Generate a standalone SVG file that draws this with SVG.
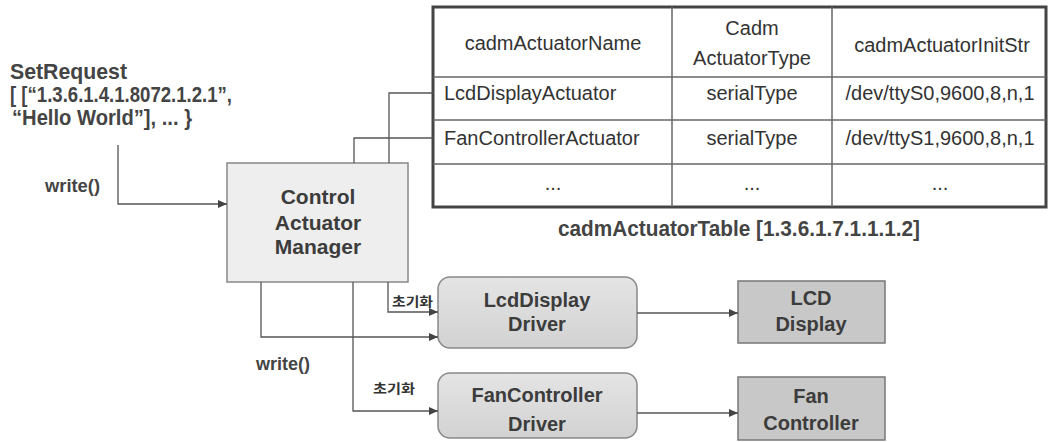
<svg xmlns="http://www.w3.org/2000/svg" width="1049" height="442" viewBox="0 0 1049 442">
<defs>
<marker id="arr" markerUnits="userSpaceOnUse" markerWidth="10" markerHeight="8" refX="9" refY="4" orient="auto">
<path d="M0,0 L9,4 L0,8 z" fill="#444"/>
</marker>
<linearGradient id="gDrv" x1="0" y1="0" x2="0" y2="1">
<stop offset="0" stop-color="#e4e4e4"/>
<stop offset="1" stop-color="#d2d2d2"/>
</linearGradient>
</defs>
<style>
.cond{font-family:"Liberation Sans",Arial,sans-serif;fill:#444;font-weight:bold}
.lbl{font-family:"Liberation Sans",Arial,sans-serif;font-weight:bold;fill:#3c3c3c;text-anchor:middle}
.tbl{font-family:"Liberation Sans",Arial,sans-serif;font-size:20px;fill:#333}
.mid{text-anchor:middle}
.kr{font-family:"Noto Sans CJK KR",sans-serif;font-size:13px;fill:#333;font-weight:bold}
.conn{fill:none;stroke:#555;stroke-width:1.3}
.cell{stroke:#666;stroke-width:1.5}
</style>
<rect width="1049" height="442" fill="#ffffff"/>

<g id="setrequest">
<text class="cond" x="10" y="79" font-size="22" textLength="117" lengthAdjust="spacingAndGlyphs">SetRequest</text>
<text class="cond" x="10" y="102" font-size="22" textLength="222" lengthAdjust="spacingAndGlyphs">[ [“1.3.6.1.4.1.8072.1.2.1”,</text>
<text class="cond" x="12" y="125" font-size="22" textLength="180" lengthAdjust="spacingAndGlyphs">“Hello World”], ... }</text>
</g>

<g id="table">
<rect x="433" y="7" width="613" height="200" fill="#fff" stroke="#444" stroke-width="3"/>
<line class="cell" x1="433" y1="77" x2="1046" y2="77"/>
<line class="cell" x1="433" y1="120" x2="1046" y2="120"/>
<line class="cell" x1="433" y1="164" x2="1046" y2="164"/>
<line class="cell" x1="672" y1="7" x2="672" y2="207"/>
<line class="cell" x1="832" y1="7" x2="832" y2="207"/>
<text class="tbl mid" x="553" y="50">cadmActuatorName</text>
<text class="tbl mid" x="752" y="35">Cadm</text>
<text class="tbl mid" x="752" y="65">ActuatorType</text>
<text class="tbl mid" x="942" y="52">cadmActuatorInitStr</text>
<text class="tbl" x="444" y="100">LcdDisplayActuator</text>
<text class="tbl mid" x="752" y="100">serialType</text>
<text class="tbl mid" x="940" y="100">/dev/ttyS0,9600,8,n,1</text>
<text class="tbl" x="444" y="145">FanControllerActuator</text>
<text class="tbl mid" x="752" y="145">serialType</text>
<text class="tbl mid" x="940" y="145">/dev/ttyS1,9600,8,n,1</text>
<text class="tbl mid" x="553" y="190" font-size="12" fill="#999">...</text>
<text class="tbl mid" x="752" y="190" font-size="12" fill="#999">...</text>
<text class="tbl mid" x="940" y="190" font-size="12" fill="#999">...</text>
<text class="cond" x="558" y="236" font-size="22" textLength="362" lengthAdjust="spacingAndGlyphs">cadmActuatorTable [1.3.6.1.7.1.1.1.2]</text>
</g>

<g id="manager">
<rect x="227" y="163" width="181" height="119" fill="#eeeeee" stroke="#888" stroke-width="1.5"/>
<text class="lbl" x="318" y="204" font-size="21">Control</text>
<text class="lbl" x="318" y="230" font-size="21">Actuator</text>
<text class="lbl" x="318" y="254" font-size="21">Manager</text>
</g>

<g id="lcd-driver">
<rect x="438" y="277" width="199" height="71" rx="12" fill="url(#gDrv)" stroke="#888" stroke-width="1.5"/>
<text class="lbl" x="537" y="307" font-size="20">LcdDisplay</text>
<text class="lbl" x="537" y="331" font-size="20">Driver</text>
</g>

<g id="fan-driver">
<rect x="438" y="373" width="199" height="65" rx="12" fill="url(#gDrv)" stroke="#888" stroke-width="1.5"/>
<text class="lbl" x="537" y="402" font-size="20">FanController</text>
<text class="lbl" x="537" y="431" font-size="20">Driver</text>
</g>

<g id="lcd-display">
<rect x="738" y="281" width="147" height="62" fill="#c8c8c8" stroke="#777" stroke-width="1.5"/>
<text class="lbl" x="811" y="305" font-size="20">LCD</text>
<text class="lbl" x="811" y="331" font-size="20">Display</text>
</g>

<g id="fan-controller">
<rect x="738" y="377" width="147" height="63" fill="#c8c8c8" stroke="#777" stroke-width="1.5"/>
<text class="lbl" x="811" y="403" font-size="20">Fan</text>
<text class="lbl" x="811" y="430" font-size="20">Controller</text>
</g>

<g id="connectors">
<polyline class="conn" points="118,145 118,204 227,204" marker-end="url(#arr)"/>
<polyline class="conn" points="354,163 354,138 433,138"/>
<polyline class="conn" points="389,163 389,93 433,93"/>
<polyline class="conn" points="388,282 388,312 438,312" marker-end="url(#arr)"/>
<polyline class="conn" points="261,282 261,337 438,337" marker-end="url(#arr)"/>
<polyline class="conn" points="353,282 353,411 438,411" marker-end="url(#arr)"/>
<line class="conn" x1="637" y1="313" x2="738" y2="313" marker-end="url(#arr)"/>
<line class="conn" x1="637" y1="413" x2="738" y2="413" marker-end="url(#arr)"/>
<text class="cond" x="45" y="192" font-size="19" textLength="55" lengthAdjust="spacingAndGlyphs">write()</text>
<text class="cond" x="256" y="370" font-size="19" textLength="54" lengthAdjust="spacingAndGlyphs">write()</text>
<text class="kr" x="392" y="306" textLength="41" lengthAdjust="spacingAndGlyphs">초기화</text>
<text class="kr" x="373" y="393" textLength="42" lengthAdjust="spacingAndGlyphs">초기화</text>
</g>
</svg>
